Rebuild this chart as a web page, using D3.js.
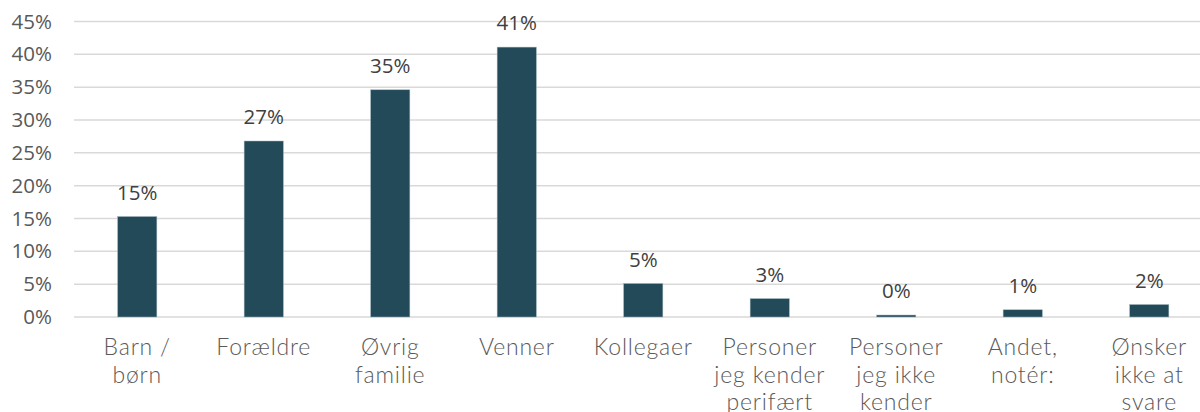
<!DOCTYPE html>
<html>
<head>
<meta charset="utf-8">
<script src="https://cdn.jsdelivr.net/npm/d3@7"></script>
<style>
  body { margin: 0; background: #fff; }
  svg { display: block; }
</style>
</head>
<body>
<svg></svg>
<script>
const categories = [
  ['Barn /', 'børn'],
  ['Forældre'],
  ['Øvrig', 'familie'],
  ['Venner'],
  ['Kollegaer'],
  ['Personer', 'jeg kender', 'perifært'],
  ['Personer', 'jeg ikke', 'kender'],
  ['Andet,', 'notér:'],
  ['Ønsker', 'ikke at', 'svare']
]
const values = [15.3, 26.8, 34.6, 41.1, 5.1, 2.8, 0.3, 1.1, 1.9]
const valueLabels = ['15%', '27%', '35%', '41%', '5%', '3%', '0%', '1%', '2%']
const yTicks = [0, 5, 10, 15, 20, 25, 30, 35, 40, 45]

const width = 1200
const height = 412

const svg = d3.select('svg')
    .attr('width', width)
    .attr('height', height)

const x = d3.scaleBand()
    .domain(d3.range(categories.length))
    .range([74, 1212.5])
    .paddingInner(0.69)
    .paddingOuter(0.345)

const y = d3.scaleLinear()
    .domain([0, 45])
    .range([317, 21.5])

// gridlines
svg.append('g')
    .selectAll('line')
    .data(yTicks)
    .enter()
    .append('line')
    .attr('x1', 74)
    .attr('x2', width)
    .attr('y1', d => y(d))
    .attr('y2', d => y(d))
    .attr('stroke', '#d9d9d9')
    .attr('stroke-width', 1.5)

// y axis labels
const yAxis = svg.append('g')
    .attr('transform', 'translate(52,0)')
    .call(d3.axisLeft(y).tickValues(yTicks).tickSize(0).tickPadding(0).tickFormat(d => d + '%'))
yAxis.select('.domain').remove()
yAxis.selectAll('text')
    .attr('fill', '#595959')
    .style('font-family', '"Open Sans", sans-serif')
    .style('font-size', '20.5px')

// bars
svg.append('g')
    .selectAll('rect')
    .data(values)
    .enter()
    .append('rect')
    .attr('x', (d, i) => x(i))
    .attr('width', x.bandwidth())
    .attr('y', d => y(d))
    .attr('height', d => y(0) - y(d))
    .attr('fill', '#234a59')
    .attr('stroke', '#9fb4bc')
    .attr('stroke-width', 0.5)

// value labels
svg.append('g')
    .selectAll('text')
    .data(values)
    .enter()
    .append('text')
    .attr('x', (d, i) => x(i) + x.bandwidth() / 2)
    .attr('y', d => y(d) - 17)
    .attr('text-anchor', 'middle')
    .attr('fill', '#404040')
    .style('font-family', '"Open Sans", sans-serif')
    .style('font-size', '20.5px')
    .text((d, i) => valueLabels[i])

// category labels
const cat = svg.append('g')
    .selectAll('text')
    .data(categories)
    .enter()
    .append('text')
    .attr('text-anchor', 'middle')
    .attr('fill', '#595959')
    .style('font-family', 'Lato, sans-serif')
    .style('font-weight', 300)
    .style('font-size', '23px')
    .style('letter-spacing', '0.8px')

cat.selectAll('tspan')
    .data((d, i) => d.map(line => ({ line, i })))
    .enter()
    .append('tspan')
    .attr('x', d => x(d.i) + x.bandwidth() / 2)
    .attr('y', (d, j) => 355 + j * 27.5)
    .text(d => d.line)
</script>
</body>
</html>
